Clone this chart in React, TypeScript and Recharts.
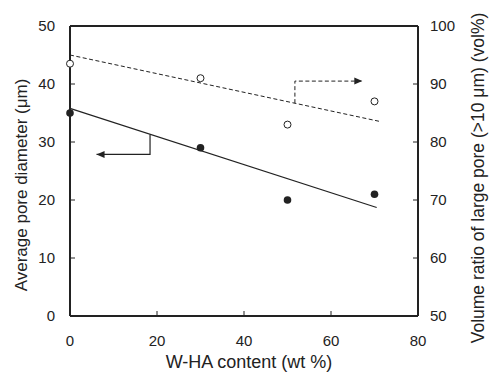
import React from "react";
import {
  ComposedChart,
  XAxis,
  YAxis,
  Scatter,
  Line,
  ReferenceLine,
} from "recharts";

// W-HA content (wt %)
const whaContent = [0, 30, 50, 70];
// Average pore diameter (μm) — filled circles, left axis
const poreDiameter = [35, 29, 20, 21];
// Volume ratio of large pore (>10 μm) (vol%) — open circles, right axis
const volumeRatio = [93.5, 91, 83, 87];

// Trend lines (endpoints)
const diameterTrend = [
  { x: 0, y: 35.8 },
  { x: 70.5, y: 18.7 },
];
const volumeTrend = [
  { x: 0, y: 95 },
  { x: 71.5, y: 83.5 },
];

// Annotation arrows (data coordinates)
const diameterArrow = [
  { x: 18.4, y: 31.3 },
  { x: 18.4, y: 27.85 },
  { x: 6.1, y: 27.85 },
];
const volumeArrow = [
  { x: 51.7, y: 86.7 },
  { x: 51.7, y: 90.5 },
  { x: 67.2, y: 90.5 },
];

const xTicks = [0, 20, 40, 60, 80];
const leftTicks = [0, 10, 20, 30, 40, 50];
const rightTicks = [50, 60, 70, 80, 90, 100];

const diameterData = whaContent.map((x, i) => ({ x, y: poreDiameter[i] }));
const volumeData = whaContent.map((x, i) => ({ x, y: volumeRatio[i] }));

const INK = "#222";
const FONT = "'Liberation Sans', Arial, sans-serif";

const makeArrowDot = (dir: number, last: number) => (props: any) => {
  const { cx, cy, index } = props;
  if (index !== last || cx == null || cy == null) return <g key={index} />;
  const len = 8;
  const hw = 3.5;
  const bx = cx - dir * len;
  return (
    <polygon
      key={index}
      points={`${cx},${cy} ${bx},${cy - hw} ${bx},${cy + hw}`}
      fill={INK}
      stroke="none"
    />
  );
};

const FilledDot = (props: any) => {
  const { cx, cy } = props;
  return <circle cx={cx} cy={cy} r={3.8} fill={INK} />;
};
const OpenDot = (props: any) => {
  const { cx, cy } = props;
  return <circle cx={cx} cy={cy} r={3.5} fill="#fff" stroke={INK} strokeWidth={1} />;
};

export default function App() {
  return (
    <div style={{ position: "absolute", left: 0, top: 0, width: 489, height: 378, background: "#fff" }}>
      <ComposedChart
        width={489}
        height={378}
        margin={{ top: 26, right: 0, bottom: 0, left: 0 }}
        style={{ fontFamily: FONT }}
      >
        <XAxis
          dataKey="x"
          type="number"
          domain={[0, 80]}
          ticks={xTicks}
          height={62}
          tickSize={-5}
          tickMargin={24}
          axisLine={{ stroke: INK, strokeWidth: 2 }}
          tickLine={{ stroke: INK, strokeWidth: 1 }}
          tick={{ fill: INK, fontSize: 15, fontFamily: FONT }}
          label={(p: any) => (
            <text x={249} y={368} textAnchor="middle" fill={INK} fontSize={18} fontFamily={FONT}>
              W-HA content (wt %)
            </text>
          )}
        />
        <YAxis
          yAxisId="left"
          type="number"
          domain={[0, 50]}
          ticks={leftTicks}
          width={70}
          tickSize={-5}
          tickMargin={20}
          axisLine={{ stroke: INK, strokeWidth: 2 }}
          tickLine={{ stroke: INK, strokeWidth: 1 }}
          tick={{ fill: INK, fontSize: 15, fontFamily: FONT }}
          label={(p: any) => (
            <text
              x={27}
              y={185}
              transform="rotate(-90, 27, 185)"
              textAnchor="middle"
              fill={INK}
              fontSize={17}
              fontFamily={FONT}
            >
              Average pore diameter (μm)
            </text>
          )}
        />
        <YAxis
          yAxisId="right"
          orientation="right"
          type="number"
          domain={[50, 100]}
          ticks={rightTicks}
          width={71}
          tickSize={-5}
          tickMargin={17}
          axisLine={{ stroke: INK, strokeWidth: 2 }}
          tickLine={{ stroke: INK, strokeWidth: 1 }}
          tick={{ fill: INK, fontSize: 15, fontFamily: FONT }}
          label={(p: any) => (
            <text
              x={484}
              y={178}
              transform="rotate(-90, 484, 178)"
              textAnchor="middle"
              fill={INK}
              fontSize={17.5}
              fontFamily={FONT}
            >
              Volume ratio of large pore (&gt;10 μm) (vol%)
            </text>
          )}
        />
        <ReferenceLine yAxisId="left" y={50} stroke={INK} strokeWidth={2} ifOverflow="visible" />

        <Line
          yAxisId="left"
          data={diameterTrend}
          dataKey="y"
          type="linear"
          stroke={INK}
          strokeWidth={1.2}
          dot={false}
          activeDot={false}
          isAnimationActive={false}
        />
        <Line
          yAxisId="right"
          data={volumeTrend}
          dataKey="y"
          type="linear"
          stroke={INK}
          strokeWidth={1}
          strokeDasharray="4 2.5"
          dot={false}
          activeDot={false}
          isAnimationActive={false}
        />
        <Line
          yAxisId="left"
          data={diameterArrow}
          dataKey="y"
          type="linear"
          stroke={INK}
          strokeWidth={1.2}
          dot={makeArrowDot(-1, diameterArrow.length - 1)}
          activeDot={false}
          isAnimationActive={false}
        />
        <Line
          yAxisId="right"
          data={volumeArrow}
          dataKey="y"
          type="linear"
          stroke={INK}
          strokeWidth={1}
          strokeDasharray="4 2.5"
          dot={makeArrowDot(1, volumeArrow.length - 1)}
          activeDot={false}
          isAnimationActive={false}
        />
        <Scatter
          yAxisId="left"
          data={diameterData}
          dataKey="y"
          shape={FilledDot}
          isAnimationActive={false}
        />
        <Scatter
          yAxisId="right"
          data={volumeData}
          dataKey="y"
          shape={OpenDot}
          isAnimationActive={false}
        />
      </ComposedChart>
    </div>
  );
}
